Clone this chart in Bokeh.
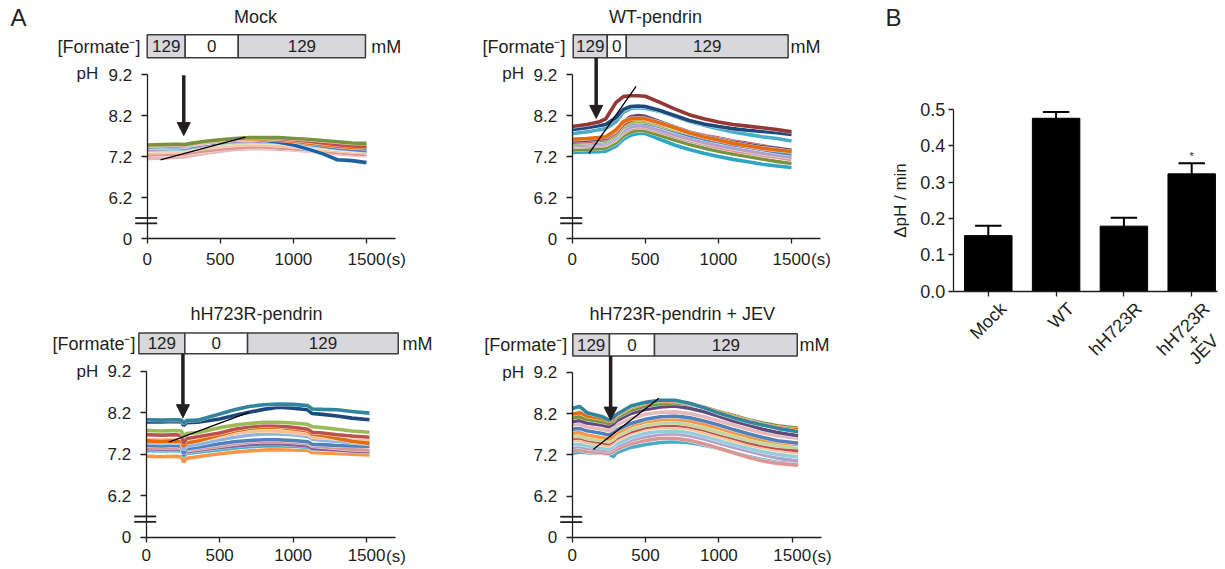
import math
from bokeh.plotting import figure
from bokeh.models import LinearAxis, FixedTicker, Range1d, Arrow, NormalHead, PrintfTickFormatter
from bokeh.layouts import row, column
from bokeh.embed import file_html
from bokeh.resources import INLINE
from bokeh.core.properties import value

FONT = "Liberation Sans"
INK = "#231F20"
GRAY = "#D7D7DC"

# ---------------- Panel A : shared axis / bar labels ----------------
Y_TICKS = [5.2, 6.2, 7.2, 8.2, 9.2]
Y_TICK_LABELS = ["0", "6.2", "7.2", "8.2", "9.2"]
X_TICKS = [0, 500, 1000, 1500]
FORMATE_LABELS = ["129", "0", "129"]

# ---------------- Mock ----------------
MOCK_T = [0, 100, 200, 260, 300, 400, 500, 600, 700, 800, 900, 1000, 1100, 1200, 1300, 1400, 1500]
MOCK_TRACES = [
    [7.48, 7.49, 7.50, 7.49, 7.52, 7.57, 7.61, 7.64, 7.66, 7.66, 7.66, 7.64, 7.62, 7.59, 7.56, 7.53, 7.52],
    [7.47, 7.48, 7.49, 7.48, 7.51, 7.56, 7.60, 7.63, 7.65, 7.65, 7.64, 7.61, 7.57, 7.53, 7.49, 7.46, 7.44],
    [7.46, 7.47, 7.48, 7.47, 7.50, 7.54, 7.58, 7.61, 7.63, 7.62, 7.60, 7.57, 7.53, 7.49, 7.45, 7.42, 7.40],
    [7.44, 7.45, 7.46, 7.46, 7.49, 7.54, 7.58, 7.61, 7.62, 7.60, 7.55, 7.48, 7.38, 7.27, 7.12, 7.10, 7.05],
    [7.42, 7.43, 7.44, 7.45, 7.49, 7.55, 7.59, 7.62, 7.63, 7.62, 7.59, 7.55, 7.50, 7.45, 7.40, 7.37, 7.34],
    [7.40, 7.41, 7.42, 7.43, 7.47, 7.53, 7.58, 7.61, 7.62, 7.60, 7.57, 7.53, 7.49, 7.45, 7.41, 7.38, 7.36],
    [7.38, 7.39, 7.40, 7.40, 7.44, 7.50, 7.55, 7.58, 7.59, 7.58, 7.55, 7.52, 7.48, 7.44, 7.40, 7.37, 7.35],
    [7.36, 7.37, 7.38, 7.38, 7.42, 7.48, 7.53, 7.56, 7.57, 7.56, 7.54, 7.51, 7.47, 7.43, 7.39, 7.36, 7.33],
    [7.34, 7.35, 7.36, 7.36, 7.40, 7.46, 7.50, 7.53, 7.55, 7.54, 7.52, 7.49, 7.46, 7.42, 7.39, 7.36, 7.34],
    [7.30, 7.31, 7.32, 7.32, 7.35, 7.41, 7.45, 7.48, 7.50, 7.49, 7.47, 7.44, 7.41, 7.38, 7.35, 7.32, 7.30],
    [7.24, 7.25, 7.26, 7.26, 7.29, 7.34, 7.38, 7.41, 7.43, 7.43, 7.41, 7.39, 7.36, 7.33, 7.30, 7.27, 7.25],
    [7.15, 7.16, 7.18, 7.19, 7.22, 7.28, 7.33, 7.37, 7.39, 7.39, 7.38, 7.36, 7.33, 7.30, 7.27, 7.24, 7.22],
]
MOCK_COLORS = ["#77933C", "#C0504D", "#E46C0A", "#1F5F9F", "#4F81BD", "#8EB4E3",
               "#8064A2", "#4BACC6", "#C3D69B", "#FAC090", "#D99694", "#E6B9B8"]
MOCK_BAR_EDGES = [0, 260, 623, 1493]
MOCK_BAR_PH = [9.61, 10.17]
MOCK_ARROW = [250, 9.18, 7.71]
MOCK_SLOPE_T = [91, 672]
MOCK_SLOPE_PH = [7.12, 7.67]

# ---------------- WT-pendrin ----------------
WT_T = [0, 100, 180, 230, 300, 350, 400, 450, 500, 600, 700, 800, 900, 1000, 1100, 1200, 1300, 1400, 1500]
WT_TRACES = [
    [7.93, 7.98, 8.04, 8.12, 8.52, 8.66, 8.68, 8.68, 8.67, 8.52, 8.36, 8.22, 8.12, 8.04, 7.98, 7.94, 7.90, 7.86, 7.80],
    [7.86, 7.90, 7.95, 7.98, 8.15, 8.35, 8.42, 8.43, 8.42, 8.32, 8.20, 8.08, 7.99, 7.93, 7.88, 7.84, 7.81, 7.78, 7.74],
    [7.76, 7.80, 7.85, 7.88, 8.05, 8.28, 8.37, 8.39, 8.38, 8.30, 8.18, 8.06, 7.96, 7.88, 7.80, 7.74, 7.68, 7.64, 7.58],
    [7.62, 7.64, 7.66, 7.68, 7.85, 8.05, 8.12, 8.13, 8.12, 8.02, 7.90, 7.78, 7.68, 7.60, 7.52, 7.46, 7.40, 7.36, 7.32],
    [7.58, 7.60, 7.62, 7.64, 7.83, 8.05, 8.17, 8.20, 8.18, 8.05, 7.92, 7.80, 7.70, 7.62, 7.55, 7.49, 7.44, 7.40, 7.35],
    [7.55, 7.57, 7.59, 7.61, 7.78, 7.98, 8.08, 8.12, 8.10, 8.00, 7.90, 7.80, 7.72, 7.65, 7.58, 7.52, 7.46, 7.40, 7.34],
    [7.52, 7.54, 7.55, 7.57, 7.72, 7.92, 8.03, 8.06, 8.05, 7.96, 7.86, 7.77, 7.69, 7.62, 7.56, 7.50, 7.45, 7.39, 7.33],
    [7.50, 7.52, 7.53, 7.55, 7.70, 7.90, 8.00, 8.03, 8.02, 7.93, 7.82, 7.72, 7.63, 7.56, 7.49, 7.43, 7.37, 7.31, 7.26],
    [7.46, 7.48, 7.49, 7.51, 7.64, 7.82, 7.92, 7.95, 7.94, 7.84, 7.73, 7.63, 7.54, 7.47, 7.40, 7.34, 7.28, 7.23, 7.18],
    [7.43, 7.45, 7.46, 7.48, 7.61, 7.78, 7.88, 7.91, 7.90, 7.80, 7.69, 7.59, 7.50, 7.42, 7.35, 7.29, 7.23, 7.18, 7.13],
    [7.36, 7.38, 7.39, 7.41, 7.53, 7.70, 7.80, 7.84, 7.83, 7.72, 7.60, 7.50, 7.41, 7.33, 7.26, 7.20, 7.14, 7.08, 7.03],
    [7.30, 7.31, 7.32, 7.33, 7.45, 7.62, 7.72, 7.76, 7.76, 7.62, 7.48, 7.37, 7.28, 7.20, 7.13, 7.07, 7.01, 6.97, 6.93],
]
WT_COLORS = ["#953735", "#1F497D", "#4BACC6", "#E46C0A", "#604A7B", "#C0504D",
             "#9BBB59", "#4F81BD", "#B3A2C7", "#D99694", "#77933C", "#31A5C6"]
WT_BAR_EDGES = [7, 240, 370, 1477]
WT_BAR_PH = [9.61, 10.17]
WT_ARROW = [164, 9.60, 8.13]
WT_SLOPE_T = [114, 437]
WT_SLOPE_PH = [7.27, 8.91]

# ---------------- hH723R-pendrin ----------------
H_T = [0, 100, 200, 240, 255, 275, 350, 500, 600, 700, 800, 900, 1000, 1100, 1130, 1200, 1300, 1400, 1520]
H_TRACES = [
    [8.03, 8.02, 8.03, 8.02, 7.95, 8.01, 8.02, 8.17, 8.27, 8.35, 8.39, 8.41, 8.40, 8.37, 8.29, 8.28, 8.27, 8.23, 8.19],
    [7.98, 7.98, 7.99, 7.98, 7.89, 7.96, 7.97, 8.05, 8.13, 8.21, 8.28, 8.33, 8.31, 8.27, 8.18, 8.16, 8.12, 8.07, 8.03],
    [7.77, 7.76, 7.77, 7.76, 7.61, 7.70, 7.72, 7.84, 7.90, 7.94, 7.97, 7.97, 7.95, 7.92, 7.86, 7.84, 7.80, 7.76, 7.73],
    [7.67, 7.66, 7.67, 7.65, 7.45, 7.58, 7.62, 7.71, 7.80, 7.86, 7.89, 7.88, 7.85, 7.80, 7.73, 7.71, 7.67, 7.64, 7.61],
    [7.52, 7.51, 7.52, 7.50, 7.38, 7.47, 7.52, 7.66, 7.76, 7.82, 7.85, 7.85, 7.81, 7.76, 7.68, 7.65, 7.58, 7.51, 7.46],
    [7.55, 7.54, 7.55, 7.53, 7.42, 7.49, 7.52, 7.63, 7.70, 7.75, 7.77, 7.76, 7.73, 7.69, 7.62, 7.60, 7.58, 7.55, 7.53],
    [7.48, 7.47, 7.48, 7.46, 7.30, 7.40, 7.44, 7.55, 7.61, 7.66, 7.69, 7.69, 7.67, 7.63, 7.56, 7.54, 7.51, 7.48, 7.45],
    [7.41, 7.40, 7.41, 7.39, 7.21, 7.33, 7.37, 7.45, 7.50, 7.53, 7.55, 7.55, 7.53, 7.50, 7.44, 7.43, 7.41, 7.40, 7.39],
    [7.37, 7.36, 7.37, 7.35, 7.22, 7.30, 7.33, 7.40, 7.45, 7.49, 7.51, 7.51, 7.49, 7.46, 7.40, 7.38, 7.35, 7.32, 7.30],
    [7.33, 7.32, 7.33, 7.31, 7.18, 7.26, 7.29, 7.36, 7.40, 7.43, 7.45, 7.45, 7.43, 7.40, 7.34, 7.32, 7.30, 7.28, 7.26],
    [7.29, 7.28, 7.29, 7.27, 7.14, 7.22, 7.25, 7.31, 7.35, 7.38, 7.40, 7.40, 7.39, 7.37, 7.32, 7.31, 7.30, 7.29, 7.28],
    [7.15, 7.14, 7.15, 7.13, 7.01, 7.10, 7.14, 7.21, 7.25, 7.28, 7.30, 7.31, 7.30, 7.29, 7.24, 7.23, 7.22, 7.20, 7.18],
]
H_COLORS = ["#31859C", "#1F497D", "#9BBB59", "#C0504D", "#E46C0A", "#FAC090",
            "#8EB4E3", "#4F81BD", "#D99694", "#8064A2", "#4BACC6", "#F79646"]
H_BAR_EDGES = [-50, 263, 690, 1716]
H_BAR_PH = [9.62, 10.12]
H_ARROW = [250, 9.62, 8.08]
H_SLOPE_T = [154, 699]
H_SLOPE_PH = [7.49, 8.21]

# ---------------- hH723R-pendrin + JEV ----------------
J_T = [0, 50, 100, 200, 250, 280, 300, 400, 500, 600, 700, 800, 900, 1000, 1100, 1200, 1300, 1400, 1540]
J_TRACES = [
    [8.32, 8.37, 8.22, 8.13, 8.04, 8.10, 8.17, 8.38, 8.47, 8.52, 8.52, 8.45, 8.34, 8.21, 8.10, 8.00, 7.92, 7.84, 7.76],
    [8.18, 8.22, 8.14, 8.08, 8.02, 8.06, 8.15, 8.35, 8.45, 8.50, 8.50, 8.44, 8.35, 8.24, 8.12, 8.02, 7.93, 7.86, 7.80],
    [8.10, 8.12, 8.06, 8.00, 7.96, 8.02, 8.10, 8.28, 8.38, 8.44, 8.46, 8.42, 8.35, 8.25, 8.15, 8.05, 7.97, 7.90, 7.84],
    [8.00, 8.03, 7.97, 7.92, 7.88, 7.94, 8.02, 8.20, 8.30, 8.36, 8.38, 8.33, 8.24, 8.13, 8.02, 7.92, 7.82, 7.74, 7.66],
    [7.92, 7.94, 7.88, 7.82, 7.78, 7.84, 7.92, 8.08, 8.18, 8.23, 8.24, 8.20, 8.12, 8.02, 7.92, 7.82, 7.73, 7.66, 7.60],
    [7.82, 7.84, 7.78, 7.72, 7.68, 7.74, 7.80, 7.96, 8.06, 8.12, 8.14, 8.10, 8.02, 7.92, 7.81, 7.71, 7.62, 7.54, 7.48],
    [7.72, 7.74, 7.68, 7.62, 7.58, 7.64, 7.72, 7.90, 8.00, 8.05, 8.06, 8.02, 7.94, 7.84, 7.74, 7.64, 7.56, 7.50, 7.45],
    [7.65, 7.66, 7.60, 7.55, 7.52, 7.58, 7.65, 7.82, 7.92, 7.97, 7.98, 7.93, 7.85, 7.75, 7.65, 7.56, 7.48, 7.42, 7.38],
    [7.60, 7.61, 7.56, 7.50, 7.47, 7.53, 7.60, 7.76, 7.86, 7.91, 7.92, 7.88, 7.80, 7.70, 7.60, 7.50, 7.42, 7.36, 7.30],
    [7.55, 7.56, 7.50, 7.45, 7.42, 7.48, 7.55, 7.72, 7.82, 7.86, 7.87, 7.83, 7.74, 7.64, 7.54, 7.45, 7.37, 7.31, 7.25],
    [7.45, 7.46, 7.42, 7.38, 7.35, 7.40, 7.46, 7.62, 7.72, 7.77, 7.78, 7.74, 7.65, 7.55, 7.45, 7.36, 7.28, 7.21, 7.15],
    [7.38, 7.40, 7.36, 7.32, 7.30, 7.34, 7.40, 7.55, 7.64, 7.70, 7.71, 7.66, 7.58, 7.48, 7.38, 7.29, 7.20, 7.12, 7.05],
    [7.30, 7.32, 7.28, 7.25, 7.23, 7.27, 7.33, 7.47, 7.55, 7.60, 7.60, 7.55, 7.46, 7.36, 7.25, 7.14, 7.05, 6.99, 6.95],
    [7.23, 7.27, 7.25, 7.24, 7.22, 7.15, 7.25, 7.38, 7.45, 7.50, 7.52, 7.49, 7.43, 7.35, 7.25, 7.16, 7.08, 7.02, 6.98],
]
J_COLORS = ["#31859C", "#E46C0A", "#77933C", "#604A7B", "#E6B9B8", "#4F81BD", "#F79646",
            "#C3D69B", "#C0504D", "#FAC090", "#93CDDD", "#B3A2C7", "#D99694", "#4BACC6"]
J_BAR_EDGES = [4, 254, 561, 1534]
J_BAR_PH = [9.59, 10.13]
J_ARROW = [262, 9.59, 8.04]
J_SLOPE_T = [143, 591]
J_SLOPE_PH = [7.33, 8.57]

# ---------------- Panel B ----------------
B_CATS = ["Mock", "WT", "hH723R", "hH723R\n+\nJEV"]
B_MEAN = [0.153, 0.476, 0.179, 0.323]
B_SEM = [0.027, 0.017, 0.023, 0.029]
B_SIG = ["", "", "", "*"]
B_YTICKS = [0.0, 0.1, 0.2, 0.3, 0.4, 0.5]

BREAK_PH = [5.57, 5.70]

# approximate Arial advance widths (em) used to centre the stacked category lines
ARIAL_W = {"h": 0.556, "H": 0.722, "7": 0.556, "2": 0.556, "3": 0.556, "R": 0.722,
           "+": 0.584, "J": 0.5, "E": 0.667, "V": 0.667, "M": 0.833, "o": 0.556,
           "c": 0.5, "k": 0.5, "W": 0.944, "T": 0.611}

X_TICK_OUT = 5


def style_axis(ax, size, standoff, tick_out):
    ax.axis_line_color = INK
    ax.axis_line_width = 1.3
    ax.major_tick_line_color = INK
    ax.major_tick_line_width = 1.3
    ax.major_tick_out = tick_out
    ax.major_tick_in = 0
    ax.minor_tick_line_color = None
    ax.major_label_text_font = FONT
    ax.major_label_text_font_size = size
    ax.major_label_text_color = INK
    ax.major_label_standoff = standoff


def a_panel(g, T, traces, colors, edges, bar_ph, arrow, slope_t, slope_ph, texts):
    def X(px):
        return (px - g["x0"]) / g["pps"]

    def Y(py):
        return 9.2 - (py - g["y92"]) / g["ppu"]

    p = figure(width=g["w"], height=g["h"],
               x_range=Range1d(X(g["left"]), X(g["left"] + g["w"])),
               y_range=Range1d(Y(g["top"] + g["h"]), Y(g["top"])),
               x_axis_location=None, y_axis_location=None,
               toolbar_location=None, output_backend="svg", min_border=0)
    p.outline_line_color = None
    p.background_fill_color = "white"
    p.border_fill_color = "white"
    for gr in p.grid:
        gr.visible = False

    yax = LinearAxis(fixed_location=0, bounds=(Y_TICKS[0], Y_TICKS[-1]),
                     ticker=FixedTicker(ticks=Y_TICKS, minor_ticks=[]),
                     major_label_overrides={t: l for t, l in zip(Y_TICKS, Y_TICK_LABELS)})
    style_axis(yax, "17px", 9, 6)
    p.add_layout(yax, "left")
    xax = LinearAxis(fixed_location=Y_TICKS[0], bounds=(0, 1700),
                     ticker=FixedTicker(ticks=X_TICKS, minor_ticks=[]))
    style_axis(xax, "17px", g["xso"], X_TICK_OUT)
    p.add_layout(xax, "below")

    # traces (drawn from the lowest upwards)
    for vals, c in reversed(list(zip(traces, colors))):
        p.line(T, vals, line_color="white", line_width=4.4, line_alpha=0.8)
        p.line(T, vals, line_color=c, line_width=3.6)

    # slope line
    p.line(slope_t, slope_ph, line_color="black", line_width=1.3)

    # formate bar
    fills = [GRAY, "white", GRAY]
    p.quad(left=edges[:-1], right=edges[1:], bottom=bar_ph[0], top=bar_ph[1],
           fill_color=fills, line_color="#3C3C3C", line_width=1.5)
    mids = [(a + b) / 2 for a, b in zip(edges[:-1], edges[1:])]
    p.text(x=mids, y=[(bar_ph[0] + bar_ph[1]) / 2] * 3, text=FORMATE_LABELS,
           text_align="center", text_baseline="middle", text_font=value(FONT),
           text_font_size="17px", text_color=INK)

    # arrow
    p.add_layout(Arrow(end=NormalHead(size=13, fill_color=INK, line_color=INK, line_width=1),
                       x_start=arrow[0], y_start=arrow[1], x_end=arrow[0], y_end=arrow[2],
                       line_color=INK, line_width=3.5))

    # axis break
    bx0, bx1 = X(g["x0"] - 12), X(g["x0"] + 10)
    p.segment(x0=[bx0, bx0], x1=[bx1, bx1], y0=BREAK_PH, y1=BREAK_PH,
              line_color=INK, line_width=1.8, level="overlay")

    # texts: (px, py, string, align, size)
    for px, py, s, al, sz in texts:
        p.text(x=[X(px)], y=[Y(py)], text=[s], text_align=al, text_baseline="middle",
               text_font=value(FONT), text_font_size=sz, text_color=INK)
    # "(s)" after the last tick label
    axis_py = g["y92"] + (9.2 - Y_TICKS[0]) * g["ppu"]
    p.text(x=[X(g["x0"] + 1500 * g["pps"] + 19.5)],
           y=[Y(axis_py + X_TICK_OUT + g["xso"] + 7)],
           text=["(s)"], text_align="left", text_baseline="middle",
           text_font=value(FONT), text_font_size="17px", text_color=INK)
    return p


G_MOCK = dict(left=0, top=0, w=440, h=290, x0=146.7, pps=0.1462, y92=74.0, ppu=41.0, xso=9)
G_WT = dict(left=440, top=0, w=415, h=290, x0=571.7, pps=0.1462, y92=74.0, ppu=41.0, xso=9)
G_H = dict(left=0, top=290, w=440, h=278, x0=145.7, pps=0.1469, y92=370.7, ppu=41.5, xso=7)
G_J = dict(left=440, top=290, w=415, h=278, x0=571.7, pps=0.1467, y92=371.7, ppu=41.3, xso=7)

p_mock = a_panel(G_MOCK, MOCK_T, MOCK_TRACES, MOCK_COLORS, MOCK_BAR_EDGES, MOCK_BAR_PH,
                 MOCK_ARROW, MOCK_SLOPE_T, MOCK_SLOPE_PH,
                 [(10, 16.5, "A", "left", "24px"), (255, 16.3, "Mock", "center", "18px"),
                  (140, 46, "[Formate\u207b]", "right", "18px"), (370.7, 46, "mM", "left", "18px"),
                  (76, 72.5, "pH", "left", "17px")])
p_wt = a_panel(G_WT, WT_T, WT_TRACES, WT_COLORS, WT_BAR_EDGES, WT_BAR_PH,
               WT_ARROW, WT_SLOPE_T, WT_SLOPE_PH,
               [(655, 16.5, "WT-pendrin", "center", "18px"),
                (565, 46, "[Formate\u207b]", "right", "18px"), (790, 46, "mM", "left", "18px"),
                (501.7, 72.5, "pH", "left", "17px")])
p_h = a_panel(G_H, H_T, H_TRACES, H_COLORS, H_BAR_EDGES, H_BAR_PH,
              H_ARROW, H_SLOPE_T, H_SLOPE_PH,
              [(256, 313.8, "hH723R-pendrin", "center", "18px"),
               (135, 343, "[Formate\u207b]", "right", "18px"), (402, 343, "mM", "left", "18px"),
               (76, 371, "pH", "left", "17px")])
p_j = a_panel(G_J, J_T, J_TRACES, J_COLORS, J_BAR_EDGES, J_BAR_PH,
              J_ARROW, J_SLOPE_T, J_SLOPE_PH,
              [(681.7, 313.8, "hH723R-pendrin + JEV", "center", "18px"),
               (566.7, 344.5, "[Formate\u207b]", "right", "18px"), (799, 344.5, "mM", "left", "18px"),
               (501.7, 372, "pH", "left", "17px")])

# ---------------- Panel B figure ----------------
GB = dict(left=855, top=0, w=367, h=568, x0=987.8, ppx=67.8, y0=290.7, ppy=363.3)


def XB(px):
    return (px - GB["x0"]) / GB["ppx"]


def YB(py):
    return (GB["y0"] - py) / GB["ppy"]


pb = figure(width=GB["w"], height=GB["h"],
            x_range=Range1d(XB(GB["left"]), XB(GB["left"] + GB["w"])),
            y_range=Range1d(YB(GB["top"] + GB["h"]), YB(GB["top"])),
            x_axis_location=None, y_axis_location=None,
            toolbar_location=None, output_backend="svg", min_border=0)
pb.outline_line_color = None
for gr in pb.grid:
    gr.visible = False

xs = list(range(len(B_CATS)))
tops = [m + s for m, s in zip(B_MEAN, B_SEM)]
pb.segment(x0=xs, y0=B_MEAN, x1=xs, y1=tops, line_color="black", line_width=2)
pb.segment(x0=[x - 0.195 for x in xs], y0=tops, x1=[x + 0.195 for x in xs], y1=tops,
           line_color="black", line_width=2)
pb.vbar(x=xs, top=B_MEAN, bottom=0, width=0.70, fill_color="black", line_color="black")
pb.text(x=xs, y=[t + 7.0 / GB["ppy"] for t in tops], text=B_SIG, text_align="center",
        text_baseline="middle", text_font=value(FONT), text_font_size="11px", text_color=INK)
pb.text(x=[XB(885)], y=[YB(17)], text=["B"], text_align="left", text_baseline="middle",
        text_font=value(FONT), text_font_size="24px", text_color=INK)

# rotated category labels (45 deg), stacked lines centred on the first line
LAB_PX = 18
c45 = math.cos(math.pi / 4)
lx, ly, lt, la = [], [], [], []
for i, cat in enumerate(B_CATS):
    lines = cat.split("\n")
    w1 = sum(ARIAL_W.get(ch, 0.556) for ch in lines[0]) * LAB_PX
    ax_px = GB["x0"] + i * GB["ppx"] + 15.0   # right end of first line (screen px)
    ay_px = GB["y0"] + 14.5
    for j, s in enumerate(lines):
        if j == 0:
            px, py, al = ax_px, ay_px, "right"
        else:
            cx = ax_px - (w1 / 2) * c45 + j * 14.5 * c45
            cy = ay_px + (w1 / 2) * c45 + j * 14.5 * c45
            px, py, al = cx, cy, "center"
        lx.append(XB(px)); ly.append(YB(py)); lt.append(s); la.append(al)
for al in ("right", "center"):
    idx = [k for k in range(len(lt)) if la[k] == al]
    pb.text(x=[lx[k] for k in idx], y=[ly[k] for k in idx], text=[lt[k] for k in idx],
            angle=math.pi / 4, text_align=al, text_baseline="middle",
            text_font=value(FONT), text_font_size=f"{LAB_PX}px", text_color=INK)

yb = LinearAxis(fixed_location=XB(952.7), bounds=(B_YTICKS[0], B_YTICKS[-1]),
                ticker=FixedTicker(ticks=B_YTICKS, minor_ticks=[]),
                formatter=PrintfTickFormatter(format="%.1f"),
                axis_label="\u0394pH / min")
style_axis(yb, "18px", 3, 5)
yb.axis_label_text_font = FONT
yb.axis_label_text_font_size = "17px"
yb.axis_label_text_font_style = "normal"
yb.axis_label_text_color = INK
yb.axis_label_standoff = 7
pb.add_layout(yb, "left")

xb = LinearAxis(fixed_location=0, bounds=(XB(952.7), XB(1216.7)),
                ticker=FixedTicker(ticks=xs, minor_ticks=[]),
                major_label_overrides={i: "" for i in xs})
style_axis(xb, "18px", 4, 5)
pb.add_layout(xb, "below")

layout = row(column(row(p_mock, p_wt), row(p_h, p_j)), pb)

with open("out.html", "w") as f:
    f.write(file_html(layout, INLINE))
